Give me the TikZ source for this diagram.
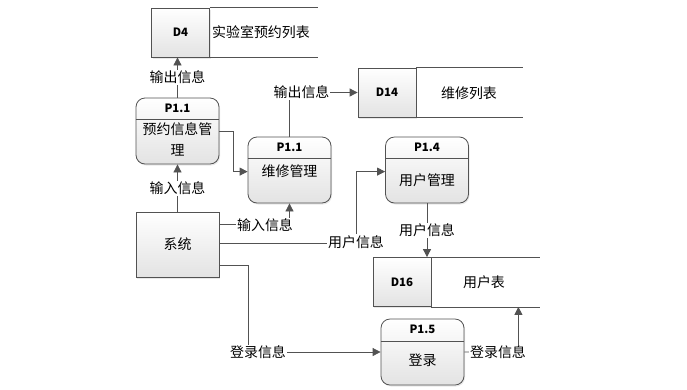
\documentclass[tikz,border=0pt]{standalone}
\usepackage{fontspec}
\setmainfont{Noto Sans CJK SC}
\usetikzlibrary{arrows.meta,shadows,calc}
\begin{document}
\begin{tikzpicture}[x=1bp,y=-1bp,
  lc/.style={black!68},
  box/.style={draw=black!68, line width=0.8bp, top color=white, bottom color=black!11,
    drop shadow={shadow xshift=1bp, shadow yshift=-1.5bp, opacity=0.18}},
  proc/.style={box, rounded corners=9bp, minimum width=83bp, minimum height=66bp, inner sep=0pt},
  storeid/.style={box, minimum width=58bp, minimum height=49bp, inner sep=0pt,
    font=\bfseries\fontsize{11.5}{13}\selectfont},
  sysbox/.style={box, minimum width=83bp, minimum height=65bp, inner sep=0pt, font=\fontsize{14}{16}\selectfont},
  hdr/.style={font=\bfseries\fontsize{11.5}{13}\selectfont, inner sep=0pt},
  body/.style={font=\fontsize{14}{21}\selectfont, inner sep=0pt, align=center},
  sline/.style={draw=black!68, line width=0.8bp},
  flow/.style={draw=black!68, line width=0.8bp, -{Triangle[length=8bp,width=8bp]}},
  plain/.style={draw=black!68, line width=0.8bp},
  lbl/.style={fill=white, inner sep=1bp, font=\fontsize{14}{16}\selectfont}
]
\useasboundingbox (0,0) rectangle (687,389);

% data stores
\node[storeid] (d4id) at (180.5,32.5) {D4};
\draw[sline] (d4id.north east) -- ++(108,0) (d4id.south east) -- ++(108,0);
\node[body] (d4t) at (261,32) {实验室预约列表};

\node[storeid] (d14id) at (387,92.5) {D14};
\draw[sline] (d14id.north east) -- ++(107,0) (d14id.south east) -- ++(107,0);
\node[body] (d14t) at (469,93) {维修列表};

\node[storeid] (d16id) at (402,282) {D16};
\draw[sline] (d16id.north east) -- ++(109,0) (d16id.south east) -- ++(109,0);
\node[body] (d16t) at (484,282) {用户表};

% processes
\node[proc] (p11a) at (177.5,131) {};
\draw[sline] ([yshift=-22bp]p11a.north west) -- ([yshift=-22bp]p11a.north east);
\node[hdr] (p11ah) at ([yshift=-11bp]p11a.north) {P1.1};
\node[body] (p11ab) at (177.5,139) {预约信息管\\理};

\node[proc] (p11b) at (289.5,170) {};
\draw[sline] ([yshift=-22bp]p11b.north west) -- ([yshift=-22bp]p11b.north east);
\node[hdr] (p11bh) at ([yshift=-11bp]p11b.north) {P1.1};
\node[body] (p11bb) at (289.5,171) {维修管理};

\node[proc] (p14) at (427,170) {};
\draw[sline] ([yshift=-22bp]p14.north west) -- ([yshift=-22bp]p14.north east);
\node[hdr] (p14h) at ([yshift=-11bp]p14.north) {P1.4};
\node[body] (p14b) at (427,180) {用户管理};

\node[proc] (p15) at (422.5,352) {};
\draw[sline] ([yshift=-23bp]p15.north west) -- ([yshift=-23bp]p15.north east);
\node[hdr] (p15h) at ([yshift=-11bp]p15.north) {P1.5};
\node[body] (p15b) at (422.5,360) {登录};

\node[sysbox] (sys) at (177.5,244.5) {系统};

% flows
\draw[flow] (p11a.north) -- (d4id.south -| p11a.north)
  node[lbl, midway] (l1) {输出信息};
\draw[flow] (p11a.east) -- ++(14,0) |- ([yshift=-35bp]p11b.north west);
\draw[flow] (p11b.north) |- (d14id.west)
  node[lbl, pos=0.5, xshift=12bp] (l2) {输出信息};
\draw[flow] (sys.north) -- (p11a.south)
  node[lbl, midway] (l3) {输入信息};
\draw[flow] ([yshift=-13bp]sys.north east) -| (p11b.south);
\node[lbl] (l4) at (265,225) {输入信息};
\draw[flow] ([yshift=-32bp]sys.north east) -- ++(137,0) |- ([yshift=-35bp]p14.north west);
\node[lbl] (l5) at (356,242) {用户信息};
\draw[flow] (p14.south) -- (d16id.north -| p14.south)
  node[lbl, midway] (l6) {用户信息};
\draw[flow] ([yshift=-54bp]sys.north east) -- ++(29,0) |- (p15.west);
\node[lbl] (l7) at (258,352) {登录信息};
\draw[flow] (p15.east) -- ++(54,0) -- ($(d16id.south east)+(87,0)$);
\node[lbl] (l8) at (498,352) {登录信息};
\end{tikzpicture}
\end{document}
